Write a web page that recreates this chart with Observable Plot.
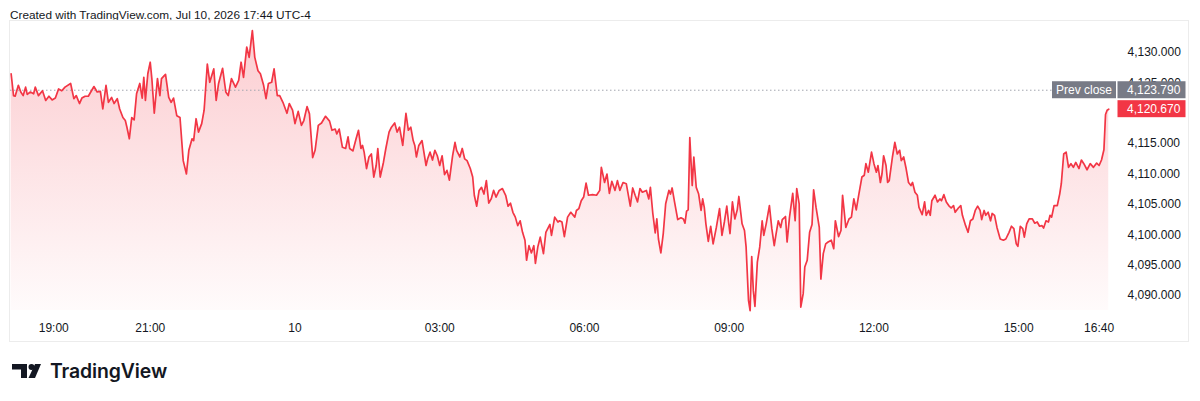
<!DOCTYPE html>
<html>
<head>
<meta charset="utf-8">
<script src="https://cdn.jsdelivr.net/npm/d3@7"></script>
<script src="https://cdn.jsdelivr.net/npm/@observablehq/plot@0.6"></script>
<style>
  html, body { margin: 0; padding: 0; background: #ffffff; }
  body { width: 1200px; height: 401px; overflow: hidden; position: relative; font-family: "Liberation Sans", Arial, sans-serif; }
  #hdr { position: absolute; left: 10px; top: 7px; font-size: 11.8px; line-height: 16px; color: #131722; white-space: nowrap; }
  #frame { position: absolute; left: 9px; top: 20px; width: 1180px; height: 322px; box-sizing: border-box; border: 1px solid #ececec; }
  #chart { position: absolute; left: 0; top: 0; }
  #logo { position: absolute; left: 12px; top: 359px; height: 24px; display: flex; align-items: center; }
  #logo span { font-family: Inter, "Liberation Sans", sans-serif; font-weight: 600; font-size: 19.4px; color: #131722; margin-left: 9px; letter-spacing: -0.1px; }
</style>
</head>
<body>
<div id="hdr">Created with TradingView.com, Jul 10, 2026 17:44 UTC-4</div>
<div id="frame"></div>
<div id="chart"></div>
<div id="logo">
  <svg width="29" height="14" viewBox="0 0 29 14">
    <path d="M0 0 H15 V14 H9 V5.5 H0 Z" fill="#131722"/>
    <circle cx="19.5" cy="3" r="3" fill="#131722"/>
    <path d="M23 0 H29 L23 14 H16.5 Z" fill="#131722"/>
  </svg>
  <span>TradingView</span>
</div>
<script>
// ---- data: minutes since 18:00 (Jul 9) and last traded price ----
const minutes = [
  7,10,12,16,19,22,25,27,31,35,37,41,46,50,54,58,62,66,70,74,
  81,85,88,92,95,99,103,110,114,118,121,125,128,132,135,139,142,146,149,151,
  154,157,160,163,167,170,172,174,177,180,182,185,189,192,194,199,203,206,209,213,
  217,221,225,228,232,234,237,240,244,247,251,254,259,262,265,270,274,277,281,286,
  290,293,296,300,303,307,310,314,317,321,324,327,331,334,338,
  341,345,350,353,357,360,364,368,371,375,378,382,385,389,393,398,403,406,410,412,
  415,419,423,426,428,432,436,439,442,444,446,449,452,455,458,461,463,466,470,473,
  477,480,484,487,490,494,498,501,504,507,509,511,514,518,523,525,528,531,534,537,
  540,543,546,549,552,556,559,561,565,568,571,574,578,581,583,586,589,592,595,598,
  601,604,607,610,614,618,622,625,628,631,634,637,640,643,646,648,651,654,657,659,
  662,665,669,672,677,679,683,687,
  689,692,695,699,703,708,710,713,716,719,722,725,730,735,739,741,745,748,751,754,
  758,761,764,768,772,777,780,783,786,789,792,797,800,802,805,808,810,812,815,818,
  821,825,827,829,832,836,840,843,845,847,849,851,854,856,859,862,865,867,869,871,
  874,877,880,884,888,891,894,897,899,901,904,907,910,912,916,919,921,924,926,928,
  930,932,935,938,941,943,946,950,953,956,958,961,964,966,970,972,975,979,982,984,
  987,989,992,994,997,1000,1003,1005,1008,
  1012,1014,1017,1020,1023,1027,1030,1032,1036,1039,1041,1045,1049,1052,1055,1058,1061,1065,1068,1070,
  1073,1077,1080,1083,1085,1088,1090,1092,1095,1097,1099,1103,1106,1109,1112,1114,1117,1120,1123,1126,
  1128,1131,1134,1136,1140,1143,1145,1148,1150,1152,1156,1159,1162,1164,1167,1170,1173,1176,1179,1181,
  1185,1188,1190,1194,1197,1200,1203,1206,1209,1212,1214,1217,1219,1222,1225,1227,1230,1233,1237,1241,
  1244,1248,1251,1254,1257,1259,1262,1265,1267,1270,1273,1277,1280,1283,1286,1289,1291,1294,1297,1299,
  1301,1304,1308,1311,1313,1316,1319,1322,1325,1328,1331,1335,1338,1341,1345,1349,1353,1357,1360,1363,
  1366,1368,1370,1372
];
const prices = [
  4126.5,4122.9,4122.8,4124.6,4123.5,4122.9,4124.3,4123.1,4123.5,4123.2,
  4124.3,4122.9,4123.7,4122.1,4122.8,4122.2,4122.5,4124.0,4123.7,4124.3,
  4124.9,4122.4,4122.9,4121.6,4122.5,4122.8,4122.8,4124.4,4123.5,4123.6,
  4120.7,4124.6,4121.8,4122.6,4121.6,4122.4,4120.7,4119.3,4118.8,4117.7,
  4115.8,4119.3,4118.9,4123.2,4124.9,4122.5,4125.9,4122.1,4126.5,4128.4,
  4125.7,4120.0,4125.7,4122.9,4125.7,4126.4,4122.6,4121.8,4122.5,4119.6,
  4119.3,4112.2,4110.0,4113.9,4115.8,4115.5,4119.1,4116.9,4118.3,4120.5,
  4128.1,4125.1,4127.3,4122.1,4124.9,4127.4,4123.5,4122.9,4125.7,4124.3,
  4125.4,4128.4,4125.9,4130.9,4129.2,4133.6,4129.2,4127.0,4126.5,4124.6,
  4122.4,4124.9,4125.1,4127.3,4122.9,
  4122.9,4121.8,4120.0,4121.6,4120.5,4118.3,4120.3,4118.0,4118.8,4121.1,
  4119.9,4112.7,4113.9,4118.0,4118.4,4119.5,4118.7,4117.2,4117.4,4116.6,
  4117.4,4114.4,4114.2,4116.1,4114.2,4113.8,4115.8,4117.2,4114.2,4114.7,
  4113.6,4110.9,4112.8,4113.3,4109.5,4111.4,4114.2,4109.5,4111.9,4114.2,
  4116.9,4117.7,4118.4,4116.9,4117.7,4114.7,4120.0,4117.2,4117.7,4115.5,
  4114.7,4112.8,4114.7,4115.5,4111.4,4112.5,4113.6,4112.3,4113.9,4113.0,
  4111.4,4113.0,4109.9,4110.6,4109.0,4113.0,4115.2,4113.9,4112.8,4114.2,
  4112.5,4112.2,4110.9,4109.5,4106.5,4104.7,4107.3,4107.8,4106.7,4108.9,
  4105.2,4105.9,4107.3,4106.2,4107.3,4107.6,4106.5,4104.7,4105.2,4103.7,
  4102.9,4101.5,4102.3,4100.4,4099.1,4095.8,4098.2,4097.0,4098.2,4095.3,
  4098.0,4099.6,4096.9,4100.4,4101.7,4099.9,4102.9,4102.1,
  4102.3,4102.1,4099.7,4102.9,4103.7,4102.9,4104.0,4104.3,4105.6,4106.2,
  4108.5,4106.5,4106.6,4106.5,4107.3,4111.1,4108.6,4110.0,4106.8,4108.8,
  4107.3,4108.9,4107.3,4108.6,4108.4,4104.7,4107.7,4106.5,4105.4,4107.6,
  4107.0,4107.3,4105.9,4107.8,4103.5,4100.3,4102.6,4099.3,4097.0,4100.2,
  4105.1,4107.3,4106.7,4107.7,4105.4,4102.5,4102.8,4102.6,4101.9,4103.9,
  4104.1,4116.0,4108.1,4112.8,4107.8,4106.7,4104.0,4105.9,4104.5,4101.8,
  4098.9,4101.4,4098.5,4101.2,4104.3,4099.9,4102.1,4104.7,4102.3,4100.2,
  4105.4,4102.6,4104.1,4106.3,4101.8,4100.7,4098.0,4089.2,4087.5,4096.4,
  4090.8,4088.2,4095.5,4098.0,4102.3,4099.9,4101.8,4104.8,4101.0,4098.2,
  4099.9,4102.3,4101.2,4102.5,4103.0,4098.8,4102.9,4106.8,4102.3,4107.6,
  4105.1,4088.1,4090.3,4094.7,4095.8,4100.4,4101.7,4107.4,4104.5,
  4101.2,4092.7,4096.9,4098.5,4098.8,4099.1,4097.7,4102.3,4099.7,4100.7,
  4106.5,4101.2,4102.6,4102.9,4105.9,4104.1,4106.5,4109.5,4109.8,4111.7,
  4110.3,4113.6,4111.7,4110.3,4111.4,4108.6,4110.0,4113.0,4111.4,4108.6,
  4108.9,4112.8,4115.2,4113.3,4113.9,4112.2,4112.8,4110.9,4108.6,4108.1,
  4108.6,4107.0,4106.5,4104.5,4103.3,4105.4,4103.2,4104.0,4103.2,4105.6,
  4106.5,4105.4,4105.9,4105.6,4106.6,4105.4,4104.8,4104.4,4104.8,4103.7,
  4104.4,4104.8,4103.2,4101.5,4100.4,4102.3,4102.6,4104.0,4104.7,4104.0,
  4102.5,4104.0,4103.2,4103.7,4102.3,4103.5,4103.2,4101.2,4099.3,4099.1,
  4099.3,4100.4,4101.4,4101.0,4098.5,4098.1,4101.4,4101.0,4099.6,4101.8,
  4102.6,4102.6,4101.9,4102.1,4101.4,4101.5,4101.1,4102.3,4102.1,4103.2,
  4102.9,4104.8,4104.8,4106.7,4108.4,4113.3,4113.6,4111.1,4111.7,4111.1,
  4111.9,4110.9,4112.3,4111.7,4110.7,4111.7,4111.1,4111.8,4111.4,4112.3,
  4114.0,4119.8,4120.5,4120.67
];
const prevClose = 4123.79;
const lastPrice = 4120.67;
const prevCloseLabel = "Prev close";
// 4,120.000 sits fully under the last-price tag in the reference, so it is not drawn
const yTicks = [4090, 4095, 4100, 4105, 4110, 4115, 4125, 4130];
const xTickMinutes = [60, 180, 360, 540, 720, 900, 1080, 1260, 1360];
const xTickLabels = ["19:00", "21:00", "10", "03:00", "06:00", "09:00", "12:00", "15:00", "16:40"];

// ---- chart ----
const data = minutes.map((m, i) => ({ m, p: prices[i] }));
const yDomain = [4087.53, 4134.94];
const fmt = d3.format(",.3f");
const FONT = "'Liberation Sans', Arial, sans-serif";

const chart = Plot.plot({
  width: 1200,
  height: 345,
  marginTop: 22,
  marginBottom: 35,
  marginLeft: 10,
  marginRight: 148,
  style: { fontFamily: FONT, fontSize: "12px", color: "#131722", background: "transparent", overflow: "visible" },
  x: {
    domain: [0, 1360], range: [5, 1098.6],
    ticks: xTickMinutes,
    tickFormat: d => xTickLabels[xTickMinutes.indexOf(d)],
    tickSize: 0, tickPadding: 13, label: null
  },
  y: {
    domain: yDomain, range: [310, 22],
    axis: "right", ticks: yTicks, tickFormat: fmt,
    tickSize: 0, tickPadding: 75, label: null
  },
  marks: [
    Plot.areaY(data, { x: "m", y1: yDomain[0], y2: "p", fill: "url(#tvAreaGrad)" }),
    Plot.ruleY([prevClose], { stroke: "#a3a6af", strokeWidth: 1, strokeDasharray: "1.5,2.5" }),
    Plot.lineY(data, { x: "m", y: "p", stroke: "#f23645", strokeWidth: 1.7, strokeLinejoin: "round" })
  ]
});
document.getElementById("chart").appendChild(chart);

const svg = d3.select(chart);
const defs = svg.insert("defs", ":first-child");
const grad = defs.append("linearGradient").attr("id", "tvAreaGrad")
  .attr("x1", 0).attr("y1", 0).attr("x2", 0).attr("y2", 1);
grad.append("stop").attr("offset", "0%").attr("stop-color", "#f23645").attr("stop-opacity", 0.25);
grad.append("stop").attr("offset", "100%").attr("stop-color", "#f23645").attr("stop-opacity", 0.02);

// price labels positioned through Plot's y scale
const ys = chart.scale("y");
const tags = svg.append("g").attr("font-family", FONT).attr("font-size", 12);
function tag(x, w, yv, fill, text, anchor, tx) {
  const cy = ys.apply(yv);
  tags.append("rect").attr("x", x).attr("y", cy - 8.5).attr("width", w).attr("height", 17).attr("fill", fill);
  tags.append("text").attr("x", tx).attr("y", cy).attr("dy", "0.35em")
    .attr("text-anchor", anchor).attr("fill", "#ffffff").text(text);
}
tag(1052, 64, prevClose, "#787b86", prevCloseLabel, "middle", 1084);
tag(1117.5, 68, prevClose, "#787b86", fmt(prevClose), "start", 1127);
tag(1117.5, 68, lastPrice, "#f23645", fmt(lastPrice), "start", 1127);
</script>
</body>
</html>
